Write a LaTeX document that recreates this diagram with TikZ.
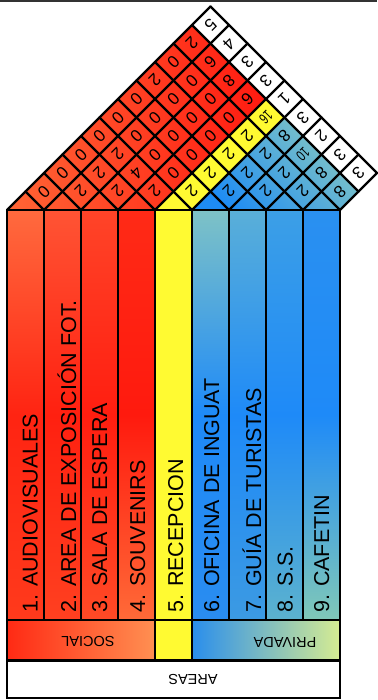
\documentclass[tikz,border=0pt]{standalone}
\usepackage{fontspec}
\setmainfont{Liberation Sans}
\definecolor{c1t}{HTML}{FF6A3E}\definecolor{c1m}{HTML}{FF2412}\definecolor{c1b}{HTML}{FF3A1C}
\definecolor{c2t}{HTML}{FF5434}\definecolor{c2m}{HTML}{FF2010}\definecolor{c2b}{HTML}{FF4020}
\definecolor{c3t}{HTML}{FF4428}\definecolor{c3m}{HTML}{FF1E10}\definecolor{c3b}{HTML}{FF4A26}
\definecolor{c4t}{HTML}{FF2A16}\definecolor{c4m}{HTML}{FF1A0E}\definecolor{c4b}{HTML}{FF6A38}
\definecolor{yel}{HTML}{FFFA32}
\definecolor{c5t}{HTML}{FFFA32}\definecolor{c5m}{HTML}{FFFA32}\definecolor{c5b}{HTML}{FFFA32}
\definecolor{c6t}{HTML}{7EC2C6}\definecolor{c6m}{HTML}{1E8AF8}\definecolor{c6b}{HTML}{2A8CF0}
\definecolor{c7t}{HTML}{5AAFD8}\definecolor{c7m}{HTML}{1E8AF8}\definecolor{c7b}{HTML}{3C9AE2}
\definecolor{c8t}{HTML}{3C9FE6}\definecolor{c8m}{HTML}{1E8AF8}\definecolor{c8b}{HTML}{5CB2CE}
\definecolor{c9t}{HTML}{2A90F0}\definecolor{c9m}{HTML}{1E8AF8}\definecolor{c9b}{HTML}{80C8B8}
\definecolor{triL}{HTML}{FF6535}\definecolor{triR}{HTML}{FF1A10}
\definecolor{tealL}{HTML}{86C8C2}\definecolor{blueR}{HTML}{1E8CF4}
\definecolor{socL}{HTML}{FF2A14}\definecolor{socR}{HTML}{FF9052}
\definecolor{priL}{HTML}{2A8EEC}\definecolor{priR}{HTML}{D6EC92}
\begin{document}
\begin{tikzpicture}[x=1pt,y=-1pt,
  gridline/.style={line width=2.2pt, line cap=round},
  box/.style={draw=black, line width=2.2pt},
  lab/.style={font=\fontsize{21.5}{24}\selectfont, rotate=90, anchor=base west, inner sep=0pt},
  num/.style={font=\fontsize{17}{18}\selectfont, rotate=225, inner sep=0pt},
  numtwo/.style={font=\fontsize{15}{16}\selectfont, rotate=225, inner sep=0pt},
  zonelabel/.style={font=\fontsize{14.5}{16}\selectfont, rotate=180, inner sep=0pt}]
\useasboundingbox (0,0) rectangle (377,700);
\fill[white] (0,0) rectangle (377,700);
\fill[black!80] (0,0) rectangle (377,2.5);

% triangle regions
\shade[left color=triL, right color=triR] (7,210) -- (155,210) -- (266,99) -- (192,25) -- cycle;
\fill[yel] (155,210) -- (192,210) -- (284.5,117.5) -- (266,99) -- cycle;
\shade[left color=tealL, right color=blueR, shading angle=-45] (192,210) -- (340,210) -- (358.5,191.5) -- (284.5,117.5) -- cycle;
\fill[white] (192,25) -- (210.5,6.5) -- (377,173) -- (358.5,191.5) -- cycle;

% grid lines
\foreach \k in {0,...,9}
  \draw[gridline] ({7+37*\k},210) -- ({(7+37*\k+414)/2},{210-(407-37*\k)/2});
\foreach \k in {1,...,9}
  \draw[gridline] ({7+37*\k},210) -- ({(14+37*\k)/2},{210-(37*\k)/2});
\draw[gridline] (358.5,191.5) -- (192,25);
\draw[gridline] (377,173) -- (210.5,6.5);

% cell values
\foreach \i/\j/\v in {1/2/0,2/3/2,3/4/2,4/5/2,
  1/3/0,2/4/2,3/5/4,4/6/0,
  1/4/0,2/5/2,3/6/0,4/7/0,
  1/5/0,2/6/0,3/7/0,4/8/0,
  1/6/0,2/7/0,3/8/0,4/9/0,
  1/7/0,2/8/0,3/9/0,4/10/6,
  1/8/2,2/9/0,3/10/8,
  1/9/0,2/10/6,
  1/10/2,
  5/6/2,5/7/2,5/8/2,5/9/2,
  6/7/2,6/8/2,6/9/2,6/10/8,7/8/2,7/9/2,8/9/2,8/10/8,9/10/8,
  1/11/5,2/11/4,3/11/3,4/11/3,5/11/1,6/11/3,7/11/2,8/11/3,9/11/3}
  \node[num] (c\i-\j) at ({7+18.5*(\i+\j-1)},{210-18.5*(\j-\i)}) {\v};
\foreach \i/\j/\v in {5/10/16,7/10/10}
  \node[numtwo] (c\i-\j) at ({7+18.5*(\i+\j-1)},{210-18.5*(\j-\i)}) {\scalebox{0.72}[1]{\v}};

% columns
\foreach \k in {1,...,9} {
  \shade[top color=c\k t, bottom color=c\k b, middle color=c\k m] ({7+37*(\k-1)},210) rectangle ({7+37*\k},620);
  \draw[box] ({7+37*(\k-1)},210) rectangle ({7+37*\k},620);
}
\foreach \k/\dx/\t in {1/4.5/1. AUDIOVISUALES, 2/6/2. AREA DE EXPOSICIÓN FOT., 3/0/3. SALA DE ESPERA,
  4/1/4. SOUVENIRS, 5/2/5. RECEPCION, 6/1/6. OFICINA DE INGUAT, 7/6/7. GUÍA DE TURISTAS,
  8/0.5/8. S.S., 9/0/9. CAFETIN}
  \node[lab] (lab\k) at ({7+37*(\k-0.5)+\dx+7.7},613) {\t};

% zone boxes
\shade[left color=socL, right color=socR] (7,620) rectangle (155,660);
\draw[box] (7,620) rectangle (155,660);
\fill[yel] (155,620) rectangle (192,660);
\draw[box] (155,620) rectangle (192,660);
\shade[left color=priL, right color=priR] (192,620) rectangle (340,660);
\draw[box] (192,620) rectangle (340,660);
\fill[white] (7,661) rectangle (340,698);
\draw[box] (7,661) rectangle (340,698);
\node[zonelabel] (social) at (88,641) {SOCIAL};
\node[zonelabel] (privada) at (285,642) {PRIVADA};
\node[zonelabel] (areas) at (193,679) {AREAS};
\end{tikzpicture}
\end{document}
